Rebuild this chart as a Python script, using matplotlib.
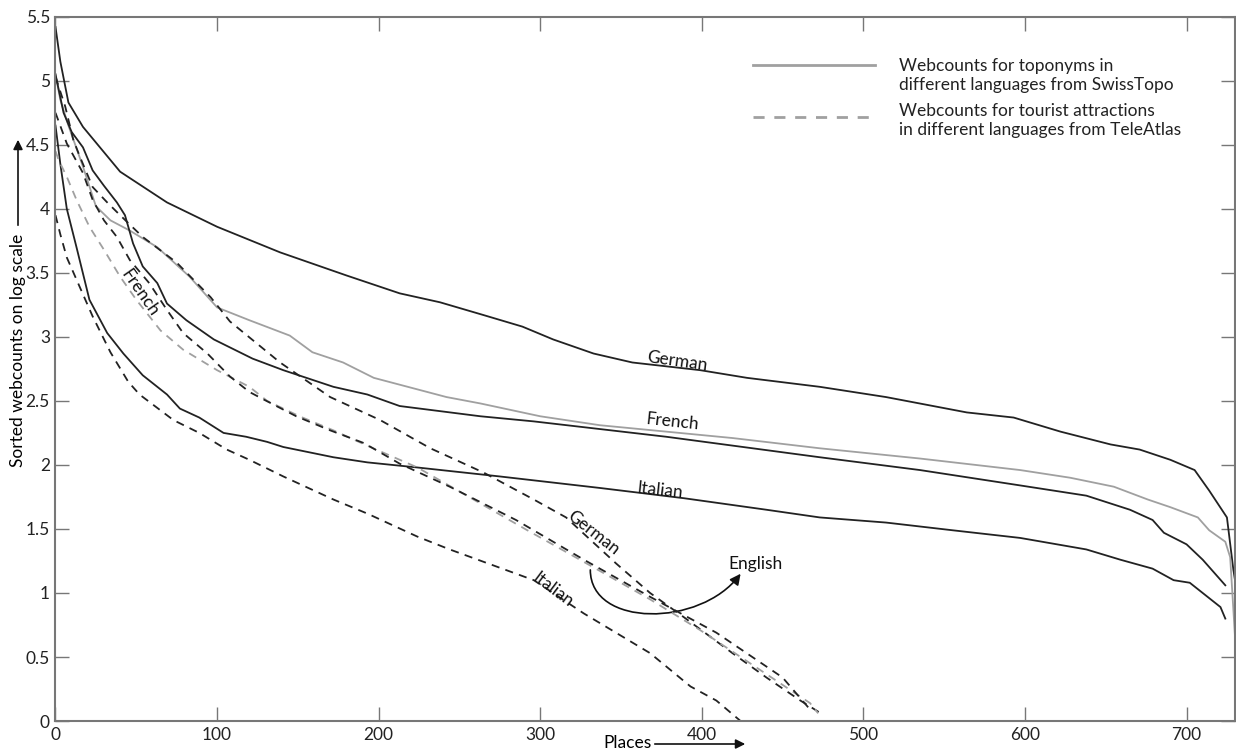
import numpy as np
import matplotlib
matplotlib.use("Agg")
import matplotlib.pyplot as plt
from matplotlib.lines import Line2D
from matplotlib.patches import FancyArrowPatch
from matplotlib.path import Path

plt.rcParams['font.family'] = ['Lato', 'DejaVu Sans']

# values (x = place rank, y = log10 webcount)
# SwissTopo toponyms (solid)
topo_german_x = [0, 3, 8, 17, 40, 69, 100, 139, 180, 213, 238, 265, 289, 308, 333, 357, 399, 428, 473, 514,
                 564, 593, 622, 653, 671, 690, 705, 714, 725, 729, 730]
topo_german_y = [5.42, 5.15, 4.83, 4.64, 4.29, 4.05, 3.86, 3.66, 3.48, 3.34, 3.27, 3.17, 3.08, 2.98, 2.87, 2.80,
                 2.74, 2.68, 2.61, 2.53, 2.41, 2.37, 2.26, 2.16, 2.12, 2.04, 1.96, 1.80, 1.59, 1.18, 1.10]

topo_french_x = [0, 3, 8, 17, 25, 34, 46, 63, 83, 100, 120, 145, 159, 178, 197, 221, 242, 263, 300, 337,
                 419, 473, 535, 597, 628, 655, 676, 690, 707, 714, 724, 727, 730]
topo_french_y = [5.05, 4.85, 4.65, 4.33, 4.02, 3.91, 3.83, 3.70, 3.47, 3.23, 3.13, 3.01, 2.88, 2.80, 2.68, 2.60,
                 2.53, 2.48, 2.38, 2.31, 2.21, 2.13, 2.05, 1.96, 1.90, 1.83, 1.73, 1.67, 1.59, 1.49, 1.40, 1.28, 0.66]

topo_english_x = [0, 5, 10, 17, 23, 30, 38, 43, 48, 54, 63, 69, 81, 98, 122, 141, 172, 193, 213, 263, 296,
                  378, 473, 535, 597, 638, 665, 679, 686, 700, 710, 724]
topo_english_y = [5.05, 4.75, 4.60, 4.48, 4.30, 4.18, 4.05, 3.95, 3.73, 3.55, 3.42, 3.26, 3.13, 2.98, 2.83, 2.74,
                  2.61, 2.55, 2.46, 2.38, 2.34, 2.22, 2.06, 1.96, 1.84, 1.76, 1.65, 1.57, 1.47, 1.38, 1.26, 1.06]

topo_italian_x = [0, 3, 7, 13, 21, 32, 42, 54, 69, 77, 89, 104, 118, 131, 141, 172, 193, 224, 275, 337, 389,
                  440, 473, 514, 555, 597, 638, 659, 679, 692, 702, 713, 721, 724]
topo_italian_y = [4.65, 4.35, 4.00, 3.70, 3.29, 3.03, 2.87, 2.70, 2.55, 2.44, 2.37, 2.25, 2.22, 2.18, 2.14, 2.06,
                  2.02, 1.98, 1.91, 1.82, 1.74, 1.65, 1.59, 1.55, 1.49, 1.43, 1.34, 1.26, 1.19, 1.10, 1.08, 0.97,
                  0.89, 0.80]

# TeleAtlas tourist attractions (dashed)
tele_german_x = [0, 6, 11, 15, 23, 32, 40, 54, 75, 96, 108, 139, 170, 201, 232, 265, 296, 316, 347, 368, 389,
                 419, 440, 461, 475]
tele_german_y = [5.03, 4.80, 4.54, 4.41, 4.17, 4.05, 3.95, 3.78, 3.58, 3.31, 3.12, 2.80, 2.53, 2.35, 2.13, 1.94,
                 1.73, 1.59, 1.23, 1.00, 0.81, 0.53, 0.34, 0.16, 0.05]

tele_french_x = [0, 2, 7, 13, 21, 30, 40, 50, 65, 79, 100, 120, 131, 151, 172, 193, 224, 292, 333, 368, 399,
                 430, 467, 472]
tele_french_y = [4.45, 4.38, 4.25, 4.07, 3.86, 3.68, 3.47, 3.29, 3.05, 2.90, 2.74, 2.61, 2.50, 2.38, 2.27, 2.15,
                 1.98, 1.49, 1.20, 0.95, 0.71, 0.45, 0.14, 0.06]

tele_english_x = [0, 7, 17, 23, 30, 38, 46, 58, 69, 79, 94, 108, 120, 129, 149, 170, 191, 213, 244, 285, 327,
                  368, 409, 450, 467]
tele_english_y = [4.75, 4.51, 4.28, 4.07, 3.91, 3.78, 3.60, 3.42, 3.21, 3.03, 2.87, 2.69, 2.57, 2.51, 2.38, 2.27,
                  2.17, 2.01, 1.83, 1.57, 1.26, 0.97, 0.69, 0.34, 0.09]

tele_italian_x = [0, 3, 7, 15, 23, 34, 45, 52, 73, 89, 106, 120, 141, 172, 193, 224, 244, 270, 296, 327, 368,
                  393, 409, 424]
tele_italian_y = [3.95, 3.80, 3.62, 3.39, 3.16, 2.88, 2.65, 2.55, 2.35, 2.25, 2.12, 2.04, 1.91, 1.73, 1.62, 1.44,
                  1.34, 1.22, 1.10, 0.84, 0.53, 0.27, 0.16, 0.0]

x_ticks = [0, 100, 200, 300, 400, 500, 600, 700]
y_ticks = [0, 0.5, 1, 1.5, 2, 2.5, 3, 3.5, 4, 4.5, 5, 5.5]
y_tick_labels = ['0', '0.5', '1', '1.5', '2', '2.5', '3', '3.5', '4', '4.5', '5', '5.5']

legend_labels = ["Webcounts for toponyms in\ndifferent languages from SwissTopo",
                 "Webcounts for tourist attractions\nin different languages from TeleAtlas"]

DARK = '#222222'
GRAY = '#a0a0a0'
AXIS = '#777777'
DASH = (0, (4.5, 3.5))
LW = 1.3

fig = plt.figure(figsize=(12.36, 7.51), dpi=100)
ax = fig.add_axes([0.0449, 0.0399, 0.9543, 0.9378])

ax.plot(topo_german_x, topo_german_y, color=DARK, lw=LW)
ax.plot(topo_french_x, topo_french_y, color=GRAY, lw=LW)
ax.plot(topo_english_x, topo_english_y, color=DARK, lw=LW)
ax.plot(topo_italian_x, topo_italian_y, color=DARK, lw=LW)

ax.plot(tele_german_x, tele_german_y, color=DARK, lw=LW, linestyle=DASH)
ax.plot(tele_french_x, tele_french_y, color=GRAY, lw=LW, linestyle=DASH)
ax.plot(tele_english_x, tele_english_y, color=DARK, lw=LW, linestyle=DASH)
ax.plot(tele_italian_x, tele_italian_y, color=DARK, lw=LW, linestyle=DASH)

ax.set_xlim(0, 730)
ax.set_ylim(0, 5.5)
ax.set_xticks(x_ticks)
ax.set_yticks(y_ticks)
ax.set_yticklabels(y_tick_labels)
ax.tick_params(direction='in', length=10, width=1, color=AXIS, top=True, right=True,
               labelsize=12.5, labelcolor='#222222', pad=4)
for s in ax.spines.values():
    s.set_color(AXIS)
    s.set_linewidth(1.5)

# curve labels
txt = dict(fontsize=12.5, color='#111111', ha='center', va='center')
ax.text(385, 2.81, "German", rotation=-8, **txt)
ax.text(382, 2.34, "French", rotation=-6, **txt)
ax.text(374, 1.80, "Italian", rotation=-6, **txt)
ax.text(333, 1.47, "German", rotation=-38, **txt)
ax.text(308, 1.02, "Italian", rotation=-37, **txt)
ax.text(52, 3.34, "French", rotation=-55, **txt)
ax.text(433, 1.23, "English", **txt)

# curved pointer to the English curves
arrow_path = Path([(331, 1.18), (331, 0.73), (399, 0.73), (424, 1.15)],
                  [Path.MOVETO, Path.CURVE4, Path.CURVE4, Path.CURVE4])
ax.add_patch(FancyArrowPatch(path=arrow_path, arrowstyle='-|>', mutation_scale=16,
                             color='#111111', lw=1.2))

# legend, key line next to the first line of each entry
key_styles = ['-', (0, (4, 3.5))]
key_y = [0.9314, 0.8576]
text_y = [0.9165, 0.8526]
for style, ky, ty, label in zip(key_styles, key_y, text_y, legend_labels):
    ax.add_line(Line2D([0.5914, 0.6950], [ky, ky], transform=ax.transAxes, color=GRAY, lw=2,
                       linestyle=style))
    ax.text(0.7151, ty, label, transform=ax.transAxes, fontsize=12.5, color='#222222',
            ha='left', va='center', linespacing=1.25)

# axis labels with arrows
fig.text(603 / 1236, 1 - 743 / 751, "Places", fontsize=12.5, ha='left', va='center')
ax.annotate('', xy=(748 / 1236, 1 - 744 / 751), xytext=(652 / 1236, 1 - 744 / 751),
            xycoords='figure fraction', textcoords='figure fraction',
            arrowprops=dict(arrowstyle='-|>', color='#111111', lw=1.2, mutation_scale=14))
fig.text(18 / 1236, 1 - 350 / 751, "Sorted webcounts on log scale", fontsize=12.5, rotation=90,
         ha='center', va='center')
ax.annotate('', xy=(18 / 1236, 1 - 137 / 751), xytext=(18 / 1236, 1 - 228 / 751),
            xycoords='figure fraction', textcoords='figure fraction',
            arrowprops=dict(arrowstyle='-|>', color='#111111', lw=1.2, mutation_scale=14))

fig.savefig("out.png", dpi=100)
